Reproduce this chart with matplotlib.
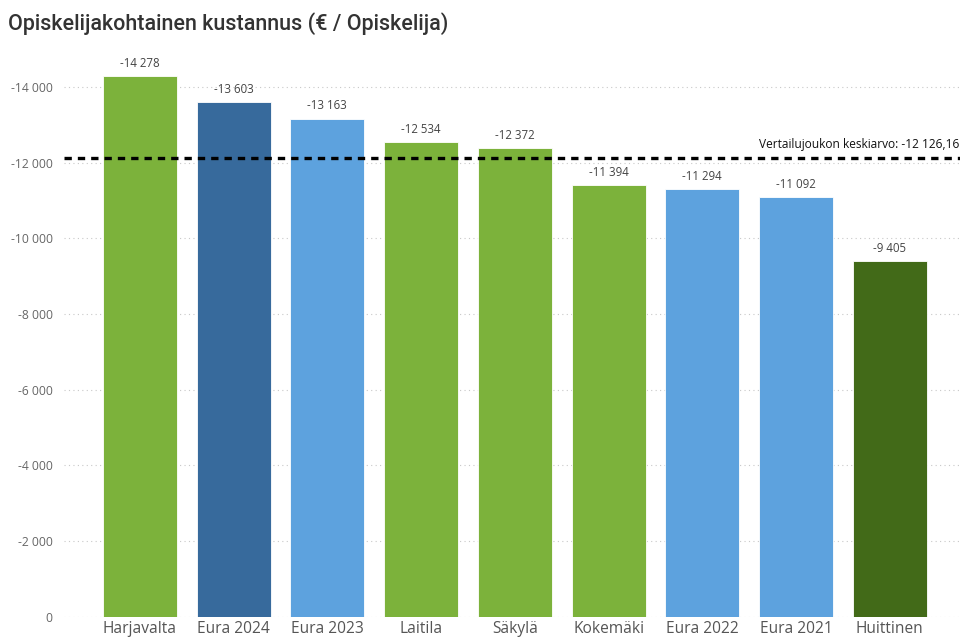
import matplotlib

matplotlib.use("Agg")
import matplotlib.pyplot as plt

categories = ["Harjavalta", "Eura 2024", "Eura 2023", "Laitila", "Säkylä",
              "Kokemäki", "Eura 2022", "Eura 2021", "Huittinen"]
values = [-14278, -13603, -13163, -12534, -12372, -11394, -11294, -11092, -9405]
colors = ["#7cb23b", "#376a9c", "#5da2de", "#7cb23b", "#7cb23b",
          "#7cb23b", "#5da2de", "#5da2de", "#426a18"]
mean_value = -12126.16
yticks = [0, -2000, -4000, -6000, -8000, -10000, -12000, -14000]


def fmt(v):
    return f"{v:,.0f}".replace(",", " ")


fig = plt.figure(figsize=(9.62, 6.44), dpi=100)
ax = fig.add_axes([0.0665, 0.042, 0.9315, 0.882])

x = list(range(len(categories)))
ax.bar(x, values, width=0.79, color=colors, edgecolor="white", linewidth=0.6, zorder=3)
for xi, v in zip(x, values):
    ax.text(xi, v - 160, fmt(v), ha="center", va="bottom", fontsize=8.3,
            color="#444444", family="Open Sans")

ax.axhline(mean_value, color="black", linestyle=(0, (2.2, 1.8)), linewidth=2.4, zorder=4)
ax.text(8.74, mean_value - 180, "Vertailujoukon keskiarvo: -12 126,16", ha="right",
        va="bottom", fontsize=8.6, color="#111111", family="Open Sans")

ax.set_xlim(-0.81, 8.75)
ax.set_ylim(0, -15000)
ax.set_yticks(yticks)
ax.set_yticklabels([fmt(t) for t in yticks], family="Open Sans", fontsize=8.7, color="#666666")
ax.set_xticks(x)
ax.set_xticklabels(categories, family="Open Sans", fontsize=11.2, color="#555555")
ax.tick_params(length=0, axis="both")
ax.tick_params(axis="y", pad=8)
ax.tick_params(axis="x", pad=3)
ax.grid(axis="y", color="#c8c8c8", linestyle=(0, (1, 3)), linewidth=0.8, zorder=0)
for s in ax.spines.values():
    s.set_visible(False)

fig.text(0.008, 0.963, "Opiskelijakohtainen kustannus (€ / Opiskelija)", ha="left",
         va="center", fontsize=15.5, color="#333333", family="Roboto", weight="medium")

fig.savefig("out.png", dpi=100)
